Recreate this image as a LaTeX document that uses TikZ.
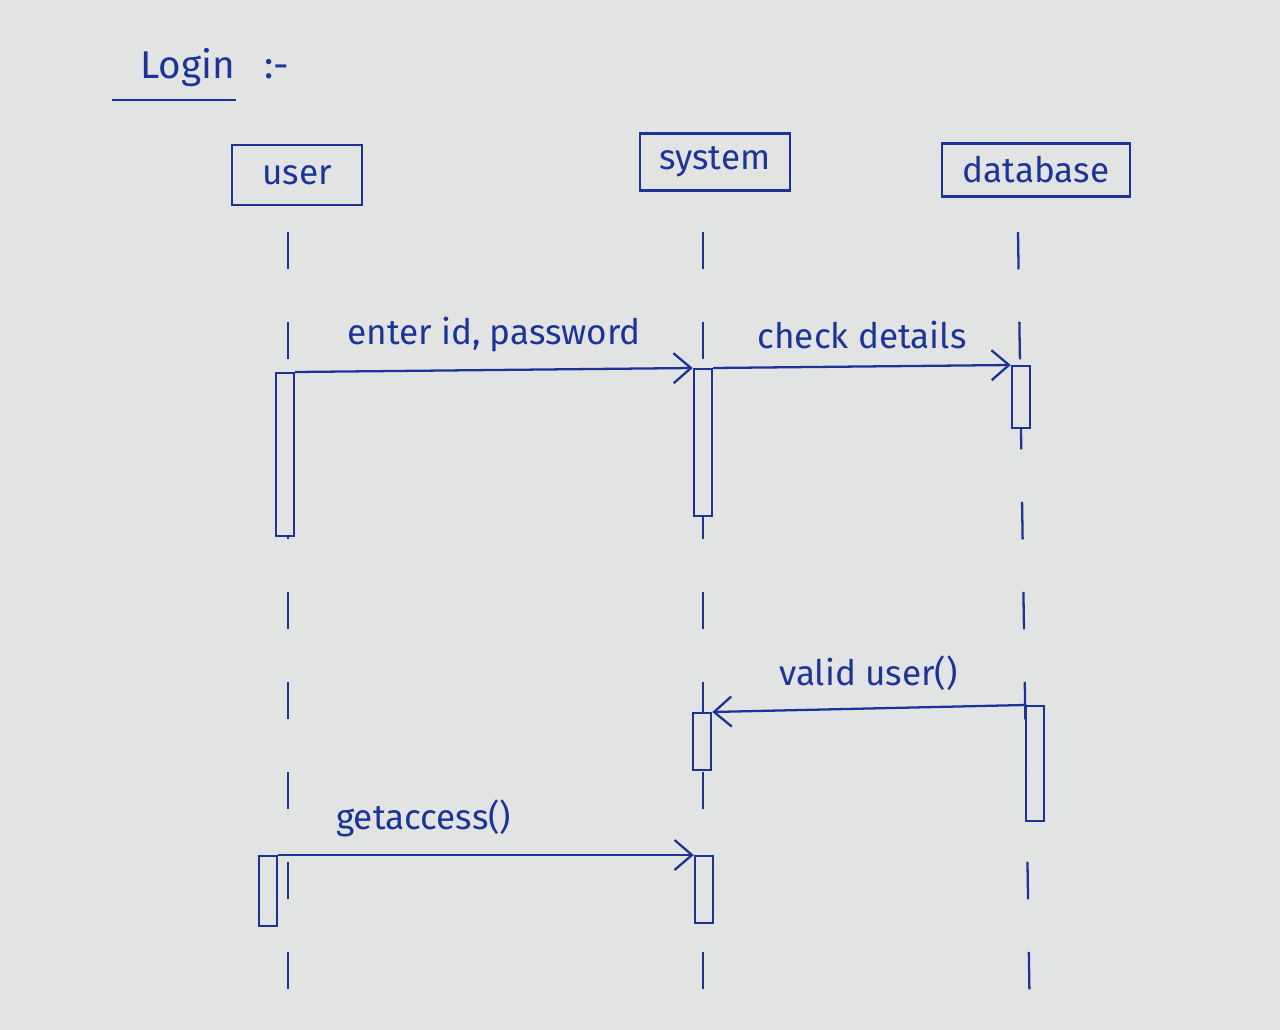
\documentclass[tikz,border=0pt]{standalone}
\usepackage{fontspec}
\setmainfont{Fira Sans}
\usetikzlibrary{arrows.meta}
\definecolor{ink}{RGB}{28,52,150}
\definecolor{paper}{RGB}{226,228,228}
\begin{document}
\begin{tikzpicture}[x=0.02cm, y=-0.02cm, every node/.style={text=ink, font=\fontsize{20}{24}\selectfont},
  obj/.style={draw=ink, line width=1.4pt, inner sep=0pt},
  act/.style={draw=ink, line width=1.4pt, minimum width=0.36cm, inner sep=0pt, anchor=north},
  life/.style={draw=ink, line width=1.3pt, dash pattern=on 0.75cm off 1.05cm},
  msg/.style={draw=ink, line width=1.3pt, -{Straight Barb[length=0.35cm, width=0.6cm, line width=1.3pt]}}]
    \fill[paper] (0,0) rectangle (1280,1030);
    \useasboundingbox (0,0) rectangle (1280,1030);
    % title
    \node (title) at (215,68) {\fontsize{22}{26}\selectfont Login \enspace :-};
    \draw[ink, line width=1.3pt] (112,100) -- (236,100);
    % objects
    \node[obj, minimum width=2.6cm, minimum height=1.2cm] (user) at (297,175) {user};
    \node[obj, minimum width=3cm, minimum height=1.14cm] (system) at (715,162) {system};
    \node[obj, minimum width=3.76cm, minimum height=1.06cm] (db) at (1036,170) {database};
    % lifelines
    \coordinate (uend) at (288,1030); \coordinate (send) at (703,1030); \coordinate (dend) at (1030,1030);
    \draw[life] (288,232) -- (uend);
    \draw[life] (703,232) -- (send);
    \draw[life] (1018,232) -- (dend);
    % activations
    \node[act, minimum height=3.26cm, fill=paper] (ua1) at (285,372) {};
    \node[act, minimum height=2.94cm, fill=paper] (sa1) at (703,368) {};
    \node[act, minimum height=1.24cm, fill=paper] (da1) at (1021,365) {};
    \node[act, minimum height=1.14cm, fill=paper] (sa2) at (702,712) {};
    \node[act, minimum height=2.3cm, fill=paper] (da2) at (1035,705) {};
    \node[act, minimum height=1.4cm, fill=paper] (ua2) at (268,855) {};
    \node[act, minimum height=1.34cm, fill=paper] (sa3) at (704,855) {};
    % messages
    \draw[msg] (ua1.north east) -- node[above=6pt] (m1) {enter id, password} (sa1.north west);
    \draw[msg] (sa1.north east) -- node[above=6pt] (m2) {check details} (da1.north west);
    \draw[msg] (da2.north west) -- node[above=6pt] (m3) {valid user()} (sa2.north east);
    \draw[msg] (ua2.north east) -- node[above=6pt, pos=0.35] (m4) {getaccess()} (sa3.north west);
\end{tikzpicture}
\end{document}
